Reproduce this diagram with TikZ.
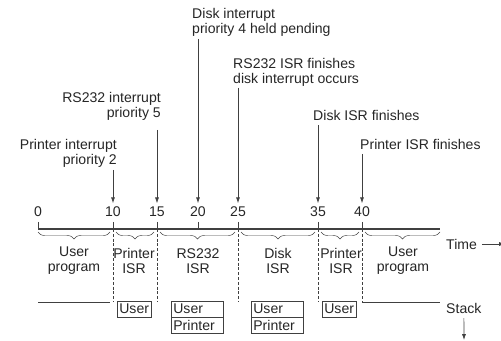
\documentclass[tikz,border=0pt]{standalone}
\usepackage{fontspec}
\setmainfont{Liberation Sans}
\usepackage{xcolor}
\usetikzlibrary{shapes,positioning,calc,arrows.meta,decorations.pathreplacing}
\definecolor{ink}{gray}{0.25}

\begin{document}
\begin{tikzpicture}[x=0.03cm, y=-0.03cm,
    every node/.style={font=\fontsize{12}{12.8}\selectfont, inner sep=0pt, text=black!85},
    tip/.style={ink, semithick, -{Latex[length=5pt,width=3.4pt]}, shorten <=2pt, shorten >=3pt},
    brc/.style={ink, decorate, decoration={brace, mirror, amplitude=6pt}},
    cut/.style={ink, semithick, dash pattern=on 2.5pt off 1.6pt},
    cell/.style={draw=ink, line width=0.8pt, outer sep=0pt, inner xsep=2pt, inner ysep=0pt,
        minimum height=0.48cm, align=left},
    wide/.style={text width=1.56cm-4pt}]
\useasboundingbox (0,0) rectangle (501,341);

    % Time axis with numbers
    \coordinate (axl) at (38,229);
    \coordinate (axr) at (440,229);
    \draw[ink, line width=1.5pt] (axl) -- (axr);
    \foreach \n/\x in {0/38, 10/113, 15/157, 20/198, 25/238, 35/318, 40/362} {
        \node (n\n) at (\x,212) {\n};
        \draw[ink, semithick] (\x,222) -- (\x,229);
    }

    % Events
    \node[align=right, anchor=north east] (pr) at (117,139) {Printer interrupt\\priority 2};
    \node[align=right, anchor=north east] (rs) at (161,92) {RS232 interrupt\\priority 5};
    \node[align=left, anchor=north west] (dk) at (192,8) {Disk interrupt\\priority 4 held pending};
    \node[align=left, anchor=north west] (rf) at (233,58) {RS232 ISR finishes\\disk interrupt occurs};
    \node[anchor=north west] (df) at (313,110) {Disk ISR finishes};
    \node[anchor=north west] (pf) at (360,139) {Printer ISR finishes};
    \draw[tip] (pr.south -| n10) -- (n10);
    \draw[tip, shorten <=8pt] (rs.south -| n15) -- (n15);
    \draw[tip] (dk.south -| n20) -- (n20);
    \draw[tip, shorten <=1pt] (rf.south -| n25) -- (n25);
    \draw[tip, shorten <=4pt] (df.south -| n35) -- (n35);
    \draw[tip, shorten <=3.5pt] (pf.south -| n40) -- (n40);

    % Who runs
    \foreach \a/\b in {38/110, 116/154, 160/235, 241/315, 321/359, 365/440} {
        \draw[brc] (\a,232) -- (\b,232);
    }
    \node[align=center] (r1) at (74,261) {User\\program};
    \node[align=center] (r2) at (134,261) {Printer\\ISR};
    \node[align=center] (r3) at (198,261) {RS232\\ISR};
    \node[align=center] (r4) at (278,261) {Disk\\ISR};
    \node[align=center] (r5) at (341,261) {Printer\\ISR};
    \node[align=center] (r6) at (403,261) {User\\program};

    \coordinate (stl) at (38,302);
    \foreach \n in {10, 15, 25, 35, 40} {
        \draw[cut] (n\n |- axl) -- (n\n |- stl);
    }

    % Stack
    \coordinate (sa) at (110,302);
    \coordinate (sb) at (440,302);
    \draw[ink, semithick] (stl) -- (sa);
    \draw[ink, semithick] (n40 |- stl) -- (sb);
    \node[cell, anchor=north west] (s1) at (117,301) {User};
    \node[cell, wide, anchor=north west] (s2u) at (171,301) {User};
    \node[cell, wide, below=0pt of s2u] (s2p) {Printer};
    \node[cell, wide, anchor=north west] (s3u) at (251,301) {User};
    \node[cell, wide, below=0pt of s3u] (s3p) {Printer};
    \node[cell, anchor=north west] (s4) at (322,301) {User};

    % Axis labels
    \node[anchor=west] (time) at (446,244) {Time};
    \coordinate (tend) at (505,244);
    \draw[tip, shorten <=4pt, shorten >=0pt] (time) -- (tend);
    \node[anchor=west] (stack) at (446,308) {Stack};
    \coordinate (send) at (464,340);
    \draw[tip, shorten <=4pt, shorten >=0pt] (stack) -- (send);
\end{tikzpicture}
\end{document}
